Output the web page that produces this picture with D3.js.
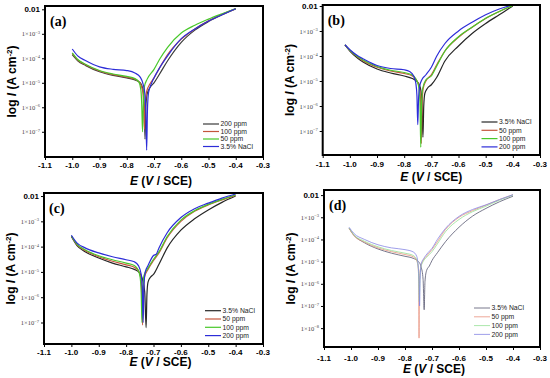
<!DOCTYPE html>
<html>
<head>
<meta charset="utf-8">
<script src="https://cdn.jsdelivr.net/npm/d3@7"></script>
<style>
  body { margin: 0; background: #fff; }
  svg { display: block; }
  .tick line { stroke: #000; stroke-width: 1; }
</style>
</head>
<body>
<svg id="chart" width="550" height="378"></svg>
<script>
// ---- data: [E (V/SCE), log I] ----
const xTicks = [-1.1, -1.0, -0.9, -0.8, -0.7, -0.6, -0.5, -0.4, -0.3];
const yTicksABC = [-2, -3, -4, -5, -6, -7];
const yTicksD = [-2, -3, -4, -5, -6, -7, -8];
const panelLabels = ['(a)', '(b)', '(c)', '(d)'];
const legendA = ['200 ppm', '100 ppm', '50 ppm', '3.5% NaCl'];
const legendBCD = ['3.5% NaCl', '50 ppm', '100 ppm', '200 ppm'];

// panel (a)
const a200 = [[-1.0,-3.85],[-0.98,-4.1],[-0.95,-4.3],[-0.9,-4.55],[-0.85,-4.7],[-0.8,-4.8],[-0.77,-4.88],[-0.75,-5.0],[-0.74,-5.3],[-0.736,-5.9],[-0.733,-7.3],[-0.73,-6.0],[-0.725,-5.45],[-0.715,-5.2],[-0.7,-5.0],[-0.68,-4.65],[-0.65,-4.1],[-0.6,-3.35],[-0.55,-2.85],[-0.5,-2.5],[-0.45,-2.22],[-0.4,-1.98]];
const a100 = [[-1.0,-3.8],[-0.98,-4.07],[-0.95,-4.27],[-0.9,-4.52],[-0.85,-4.67],[-0.8,-4.77],[-0.77,-4.85],[-0.752,-5.0],[-0.742,-5.3],[-0.738,-5.9],[-0.735,-6.9],[-0.732,-5.9],[-0.727,-5.35],[-0.715,-5.05],[-0.7,-4.8],[-0.68,-4.4],[-0.65,-3.85],[-0.6,-3.22],[-0.55,-2.8],[-0.5,-2.47],[-0.45,-2.2],[-0.4,-1.97]];
const a50 = [[-1.0,-3.78],[-0.98,-4.05],[-0.95,-4.25],[-0.9,-4.5],[-0.85,-4.64],[-0.8,-4.74],[-0.77,-4.83],[-0.755,-4.98],[-0.748,-5.3],[-0.745,-5.9],[-0.742,-7.0],[-0.739,-5.8],[-0.735,-5.15],[-0.725,-4.85],[-0.7,-4.45],[-0.68,-4.05],[-0.65,-3.55],[-0.6,-2.97],[-0.55,-2.65],[-0.5,-2.4],[-0.45,-2.18],[-0.4,-1.97]];
const aNaCl = [[-1.0,-3.62],[-0.98,-3.9],[-0.95,-4.1],[-0.9,-4.35],[-0.85,-4.45],[-0.8,-4.5],[-0.77,-4.6],[-0.75,-4.78],[-0.74,-5.05],[-0.733,-5.5],[-0.73,-6.2],[-0.727,-7.75],[-0.724,-6.1],[-0.72,-5.4],[-0.71,-5.05],[-0.7,-4.8],[-0.68,-4.4],[-0.65,-3.9],[-0.6,-3.2],[-0.55,-2.8],[-0.5,-2.48],[-0.45,-2.22],[-0.4,-1.98]];

// panel (b)
const bNaCl = [[-1.018,-3.56],[-1.0,-3.8],[-0.97,-4.1],[-0.95,-4.25],[-0.9,-4.52],[-0.85,-4.68],[-0.8,-4.8],[-0.77,-4.9],[-0.75,-5.05],[-0.74,-5.3],[-0.735,-5.8],[-0.731,-7.25],[-0.728,-6.0],[-0.724,-5.5],[-0.715,-5.3],[-0.7,-5.15],[-0.68,-4.85],[-0.65,-4.2],[-0.6,-3.6],[-0.55,-3.1],[-0.5,-2.7],[-0.45,-2.35],[-0.4,-2.0]];
const b50 = [[-1.018,-3.56],[-1.0,-3.78],[-0.97,-4.05],[-0.95,-4.2],[-0.9,-4.45],[-0.85,-4.6],[-0.8,-4.7],[-0.77,-4.8],[-0.755,-4.95],[-0.745,-5.2],[-0.74,-5.7],[-0.737,-7.5],[-0.734,-5.9],[-0.73,-5.3],[-0.72,-5.0],[-0.7,-4.75],[-0.68,-4.35],[-0.65,-3.8],[-0.6,-3.25],[-0.55,-2.85],[-0.5,-2.5],[-0.45,-2.22],[-0.4,-1.98]];
const b100 = [[-1.018,-3.55],[-1.0,-3.77],[-0.97,-4.03],[-0.95,-4.17],[-0.9,-4.42],[-0.85,-4.57],[-0.8,-4.66],[-0.77,-4.76],[-0.757,-4.92],[-0.747,-5.2],[-0.742,-5.8],[-0.739,-7.65],[-0.736,-5.9],[-0.732,-5.3],[-0.72,-4.95],[-0.7,-4.8],[-0.68,-4.4],[-0.65,-3.8],[-0.6,-3.23],[-0.55,-2.85],[-0.5,-2.49],[-0.45,-2.22],[-0.4,-1.98]];
const b200 = [[-1.018,-3.55],[-1.0,-3.75],[-0.97,-4.0],[-0.95,-4.12],[-0.9,-4.38],[-0.85,-4.5],[-0.8,-4.55],[-0.78,-4.62],[-0.765,-4.8],[-0.757,-5.1],[-0.753,-5.6],[-0.75,-6.75],[-0.747,-5.7],[-0.743,-5.2],[-0.735,-4.95],[-0.72,-4.75],[-0.7,-4.45],[-0.68,-4.0],[-0.65,-3.5],[-0.6,-3.0],[-0.55,-2.65],[-0.5,-2.35],[-0.45,-2.12],[-0.4,-1.95]];

// panel (c)
const cNaCl = [[-1.0,-3.6],[-0.98,-3.95],[-0.95,-4.2],[-0.9,-4.45],[-0.85,-4.65],[-0.8,-4.8],[-0.77,-4.9],[-0.75,-5.05],[-0.74,-5.3],[-0.732,-5.8],[-0.727,-7.2],[-0.724,-5.9],[-0.72,-5.4],[-0.71,-5.2],[-0.7,-5.1],[-0.68,-4.7],[-0.65,-4.05],[-0.6,-3.35],[-0.55,-2.9],[-0.5,-2.55],[-0.45,-2.25],[-0.4,-2.0]];
const c50 = [[-1.0,-3.58],[-0.98,-3.92],[-0.95,-4.15],[-0.9,-4.4],[-0.85,-4.58],[-0.8,-4.72],[-0.77,-4.82],[-0.755,-4.95],[-0.747,-5.2],[-0.743,-5.8],[-0.74,-7.1],[-0.737,-5.8],[-0.733,-5.2],[-0.72,-4.9],[-0.7,-4.55],[-0.68,-4.25],[-0.65,-3.65],[-0.6,-3.0],[-0.55,-2.6],[-0.5,-2.35],[-0.45,-2.15],[-0.4,-1.97]];
const c100 = [[-1.0,-3.58],[-0.98,-3.9],[-0.95,-4.12],[-0.9,-4.36],[-0.85,-4.52],[-0.8,-4.65],[-0.77,-4.75],[-0.757,-4.9],[-0.749,-5.2],[-0.745,-5.8],[-0.742,-7.0],[-0.739,-5.8],[-0.735,-5.15],[-0.72,-4.85],[-0.7,-4.5],[-0.68,-4.2],[-0.65,-3.6],[-0.6,-2.95],[-0.55,-2.58],[-0.5,-2.33],[-0.45,-2.13],[-0.4,-1.96]];
const c200 = [[-1.0,-3.55],[-0.98,-3.85],[-0.95,-4.05],[-0.9,-4.25],[-0.85,-4.4],[-0.8,-4.52],[-0.77,-4.6],[-0.755,-4.75],[-0.745,-5.1],[-0.741,-5.6],[-0.738,-7.0],[-0.735,-5.6],[-0.73,-5.0],[-0.72,-4.75],[-0.7,-4.35],[-0.69,-4.3],[-0.68,-4.05],[-0.65,-3.45],[-0.6,-2.85],[-0.55,-2.5],[-0.5,-2.28],[-0.45,-2.08],[-0.4,-1.92]];

// panel (d)
const dNaCl = [[-1.007,-3.5],[-0.99,-3.8],[-0.95,-4.15],[-0.9,-4.43],[-0.85,-4.62],[-0.8,-4.76],[-0.77,-4.85],[-0.75,-5.0],[-0.74,-5.25],[-0.733,-5.8],[-0.729,-7.17],[-0.726,-5.9],[-0.72,-5.4],[-0.71,-5.2],[-0.7,-4.95],[-0.68,-4.6],[-0.65,-4.1],[-0.6,-3.45],[-0.55,-2.95],[-0.5,-2.6],[-0.45,-2.3],[-0.4,-2.05]];
const d50 = [[-1.007,-3.5],[-0.99,-3.82],[-0.95,-4.12],[-0.9,-4.38],[-0.85,-4.55],[-0.8,-4.68],[-0.77,-4.78],[-0.757,-4.95],[-0.751,-5.3],[-0.749,-6.2],[-0.748,-8.45],[-0.747,-6.2],[-0.744,-5.4],[-0.735,-5.0],[-0.72,-4.75],[-0.7,-4.45],[-0.68,-4.1],[-0.65,-3.55],[-0.6,-3.0],[-0.55,-2.7],[-0.5,-2.45],[-0.45,-2.2],[-0.4,-1.98]];
const d100 = [[-1.007,-3.48],[-0.99,-3.78],[-0.95,-4.08],[-0.9,-4.33],[-0.85,-4.5],[-0.8,-4.62],[-0.77,-4.72],[-0.757,-4.9],[-0.751,-5.25],[-0.749,-5.9],[-0.747,-6.8],[-0.745,-5.9],[-0.742,-5.3],[-0.733,-5.0],[-0.72,-4.8],[-0.7,-4.55],[-0.68,-4.2],[-0.65,-3.65],[-0.6,-3.1],[-0.55,-2.75],[-0.5,-2.5],[-0.45,-2.23],[-0.4,-2.0]];
const d200 = [[-1.007,-3.45],[-0.99,-3.72],[-0.95,-4.0],[-0.9,-4.24],[-0.85,-4.38],[-0.8,-4.46],[-0.77,-4.56],[-0.757,-4.75],[-0.751,-5.2],[-0.748,-5.9],[-0.746,-7.0],[-0.744,-5.8],[-0.74,-5.1],[-0.73,-4.85],[-0.715,-4.6],[-0.7,-4.4],[-0.68,-4.0],[-0.65,-3.5],[-0.6,-2.96],[-0.55,-2.65],[-0.5,-2.44],[-0.45,-2.2],[-0.4,-1.98]];

const seriesA = [a200, a100, a50, aNaCl];
const seriesB = [bNaCl, b50, b100, b200];
const seriesC = [cNaCl, c50, c100, c200];
const seriesD = [dNaCl, d50, d100, d200];

const colorsA = ['#3a3a3a', '#c4553c', '#48c82a', '#2d2dd8'];
const colorsBC = ['#262626', '#c4553c', '#48c82a', '#2d2dd8'];
const colorsD = ['#55556e', '#e8927e', '#95e095', '#8686e4'];

// ---- layout of the four panels ----
const panels = [
  { x0: 45,  x1: 263, top: 6,   bot: 157, yHi: -1.865, yLo: -8.03, yTicks: yTicksABC, series: seriesA, colors: colorsA, names: legendA, lw: 1.2, tickY: 168, titleY: 184.5, titleDx: 7, legX: 203, legY: 124, legDy: 7.5 },
  { x0: 322.7, x1: 540, top: 5, bot: 155, yHi: -1.96, yLo: -7.96, yTicks: yTicksABC, series: seriesB, colors: colorsBC, names: legendBCD, lw: 1.2, tickY: 166.5, titleY: 181, titleDx: 0, legX: 481.5, legY: 122, legDy: 8.3 },
  { x0: 44,  x1: 263, top: 193, bot: 344, yHi: -1.88, yLo: -7.85, yTicks: yTicksABC, series: seriesC, colors: colorsBC, names: legendBCD, lw: 1.2, tickY: 354.5, titleY: 366, titleDx: 7, legX: 205, legY: 310.7, legDy: 8.3 },
  { x0: 324, x1: 540, top: 190, bot: 347, yHi: -1.77, yLo: -8.85, yTicks: yTicksD, series: seriesD, colors: colorsD, names: legendBCD, lw: 0.8, tickY: 360.5, titleY: 373, titleDx: 2, legX: 474, legY: 308, legDy: 8.8 }
];

let svg = d3.select('#chart');

panels.forEach((p, i) => {
  let g = svg.append('g');

  let x = d3.scaleLinear().domain([-1.1, -0.3]).range([p.x0, p.x1]);
  let y = d3.scaleLinear().domain([p.yLo, p.yHi]).range([p.bot, p.top]);

  // clip so the curves stay inside the frame
  g.append('clipPath').attr('id', 'clip' + i)
    .append('rect')
    .attr('x', p.x0).attr('y', p.top)
    .attr('width', p.x1 - p.x0).attr('height', p.bot - p.top);

  let line = d3.line()
    .x(d => x(d[0]))
    .y(d => y(d[1]))
    .curve(d3.curveMonotoneX);

  g.append('g').attr('clip-path', `url(#clip${i})`)
    .selectAll('path')
    .data(p.series)
    .enter()
    .append('path')
    .attr('d', d => line(d))
    .attr('fill', 'none')
    .attr('stroke', (d, k) => p.colors[k])
    .attr('stroke-width', p.lw)
    .attr('stroke-linejoin', 'round');

  // x axis
  let xAxis = d3.axisBottom(x)
    .tickValues(xTicks)
    .tickSize(3)
    .tickFormat(() => '');
  let xg = g.append('g')
    .attr('transform', `translate(0, ${p.bot})`)
    .call(xAxis);
  xg.select('.domain').remove();
  g.selectAll('.xlab')
    .data(xTicks)
    .enter()
    .append('text')
    .attr('x', d => x(d))
    .attr('y', p.tickY)
    .attr('text-anchor', 'middle')
    .style('font-family', 'Liberation Sans, Arial, sans-serif')
    .style('font-weight', 'bold')
    .style('font-size', '8px')
    .text(d => d.toFixed(1));

  // y axis
  let yAxis = d3.axisLeft(y)
    .tickValues(p.yTicks)
    .tickSize(3)
    .tickFormat(() => '');
  let yg = g.append('g')
    .attr('transform', `translate(${p.x0}, 0)`)
    .call(yAxis);
  yg.select('.domain').remove();

  p.yTicks.forEach(t => {
    if (t === -2) {
      g.append('text')
        .attr('x', p.x0 - 5)
        .attr('y', y(t) + 3)
        .attr('text-anchor', 'end')
        .style('font-family', 'Liberation Sans, Arial, sans-serif')
        .style('font-weight', 'bold')
        .style('font-size', '8px')
        .text('0.01');
    } else {
      let tx = g.append('text')
        .attr('x', p.x0 - 5)
        .attr('y', y(t) + 2.5)
        .attr('text-anchor', 'end')
        .style('font-family', 'Liberation Serif, Times New Roman, serif')
        .style('font-size', '6.5px')
        .attr('fill', '#444');
      tx.append('tspan').text('1×10');
      tx.append('tspan')
        .attr('dy', -2.5)
        .style('font-size', '4.5px')
        .text('−' + (-t));
    }
  });

  // frame
  g.append('rect')
    .attr('x', p.x0).attr('y', p.top)
    .attr('width', p.x1 - p.x0).attr('height', p.bot - p.top)
    .attr('fill', 'none')
    .attr('stroke', '#000')
    .attr('stroke-width', 2);

  // panel label
  g.append('text')
    .attr('x', p.x0 + 5)
    .attr('y', p.top + 20)
    .style('font-family', 'Liberation Serif, Times New Roman, serif')
    .style('font-weight', 'bold')
    .style('font-size', '14px')
    .text(panelLabels[i]);

  // axis titles
  let xt = g.append('text')
    .attr('x', (p.x0 + p.x1) / 2 + p.titleDx)
    .attr('y', p.titleY)
    .attr('text-anchor', 'middle')
    .style('font-family', 'Liberation Sans, Arial, sans-serif')
    .style('font-weight', 'bold')
    .style('font-size', '12px');
  xt.append('tspan').style('font-style', 'italic').text('E');
  xt.append('tspan').text(' (');
  xt.append('tspan').style('font-style', 'italic').text('V');
  xt.append('tspan').text(' / SCE)');

  let yt = g.append('text')
    .attr('transform', `translate(${p.x0 - 29}, ${(p.top + p.bot) / 2}) rotate(-90)`)
    .attr('text-anchor', 'middle')
    .style('font-family', 'Liberation Sans, Arial, sans-serif')
    .style('font-weight', 'bold')
    .style('font-size', '12px');
  yt.append('tspan').text('log ');
  yt.append('tspan').style('font-style', 'italic').text('I');
  yt.append('tspan').text(' (A cm');
  yt.append('tspan').attr('dy', -4).style('font-size', '8px').text('-2');
  yt.append('tspan').attr('dy', 4).text(')');

  // legend
  let leg = g.selectAll('.leg')
    .data(p.names)
    .enter()
    .append('g')
    .attr('transform', (d, k) => `translate(${p.legX}, ${p.legY + k * p.legDy})`);
  leg.append('line')
    .attr('x1', 0).attr('x2', 16)
    .attr('stroke', (d, k) => p.colors[k])
    .attr('stroke-width', p.lw);
  leg.append('text')
    .attr('x', 17.5)
    .attr('y', 2.4)
    .style('font-family', 'Liberation Sans, Arial, sans-serif')
    .style('font-size', '6.8px')
    .attr('fill', '#222')
    .text(d => d);
});
</script>
</body>
</html>
